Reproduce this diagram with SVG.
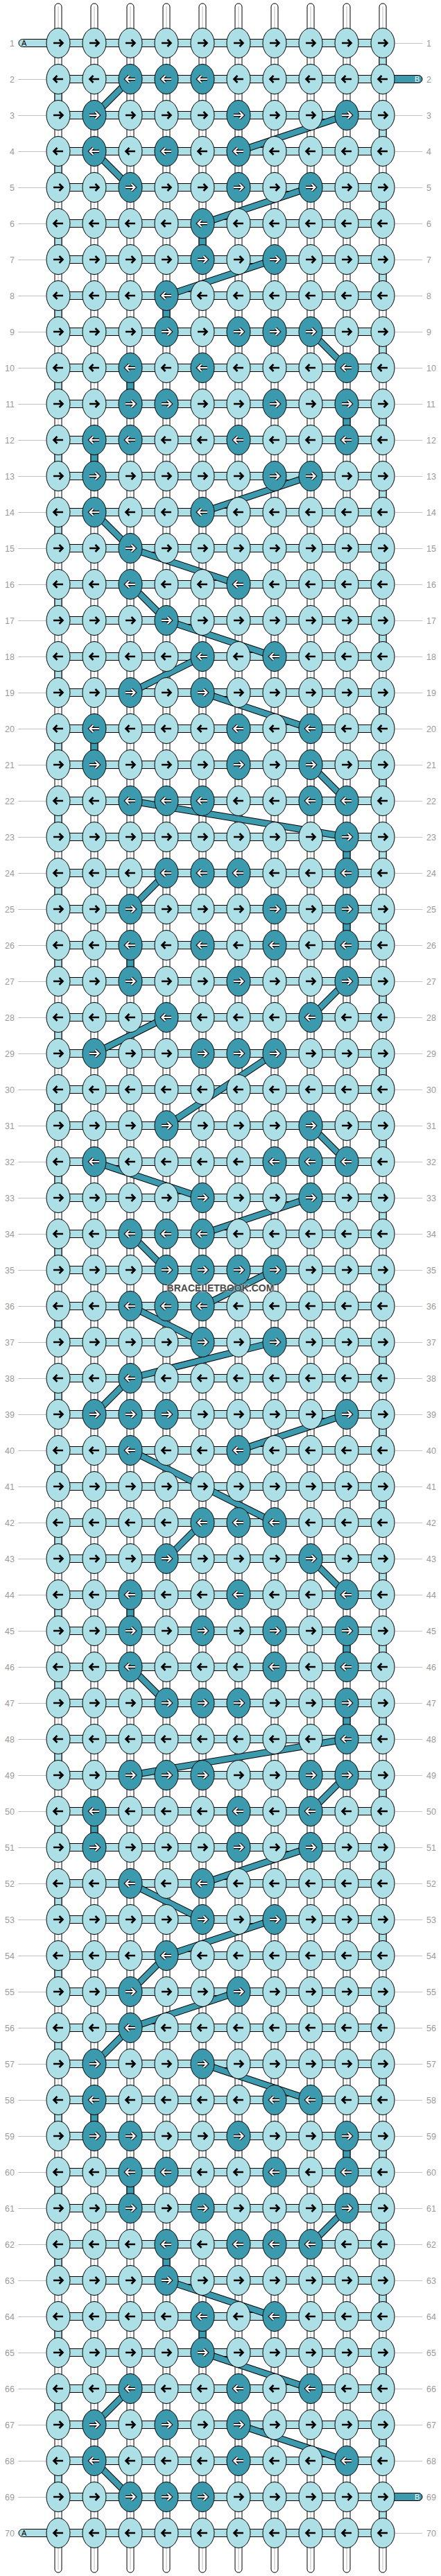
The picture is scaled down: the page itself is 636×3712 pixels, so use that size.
<svg xmlns="http://www.w3.org/2000/svg" width="636" height="3712" viewBox="0 0 636 3712">
<style>
.t{font-family:"Liberation Sans",Arial,sans-serif;font-size:12.5px;fill:#9a9a9a}
.tl{text-anchor:end}
.gl{stroke:#c2c2c2;stroke-width:1;fill:none}
.lt{fill:#ACDFE6;stroke:#000;stroke-width:1}
.dk{fill:#3B9AAD;stroke:#000;stroke-width:1}
.tail{font-family:"Liberation Sans",Arial,sans-serif;font-size:11px}
</style>
<defs>
<path id="ar" d="M-7,0H6M1.5,-5L6.5,0L1.5,5" fill="none"/>
<g id="a"><ellipse rx="17" ry="21.5" class="lt"/><use href="#ar" stroke="#000" stroke-width="2.6"/></g>
<g id="b"><ellipse rx="17" ry="21.5" class="lt"/><use href="#ar" stroke="#000" stroke-width="2.6" transform="scale(-1,1)"/></g>
<g id="c"><ellipse rx="17" ry="21.5" class="dk"/><use href="#ar" stroke="#000" stroke-width="4.4"/><use href="#ar" stroke="#fff" stroke-width="2.2"/></g>
<g id="d"><ellipse rx="17" ry="21.5" class="dk"/><g transform="scale(-1,1)"><use href="#ar" stroke="#000" stroke-width="4.4"/><use href="#ar" stroke="#fff" stroke-width="2.2"/></g></g>
<path id="bl" fill="none" d="M188,114L136,166M500,166L344,218M136,218L188,270M448,270L292,322M396,374L240,426M448,478L500,530M448,686L292,738M136,738L188,790M188,790L344,842M188,842L240,894M240,894L396,946M292,946L188,998M292,998L448,1050M448,1102L500,1154M188,1154L500,1206M240,1258L188,1310M500,1414L448,1466M240,1466L136,1518M396,1518L240,1622M448,1622L500,1674M136,1674L292,1726M448,1726L292,1778M188,1778L240,1830M396,1830L292,1882M188,1882L292,1934M396,1934L188,1986M188,1986L136,2038M500,2038L344,2090M188,2090L396,2194M292,2194L240,2246M448,2246L500,2298M188,2402L240,2454M500,2506L188,2558M500,2558L448,2610M448,2662L292,2714M188,2714L292,2766M396,2766L240,2818M240,2818L188,2870M344,2870L188,2922M188,2922L136,2974M292,2974L448,3026M500,3182L448,3234M240,3286L396,3338M292,3390L448,3442M188,3442L136,3494M344,3494L500,3546M136,3546L188,3598"/>
</defs>
<rect width="636" height="3712" fill="#fff"/>
<g id="warps" fill="#fff" stroke="#000">
<rect x="79" y="5" width="10" height="3702" rx="5"/><rect x="131" y="5" width="10" height="3702" rx="5"/><rect x="183" y="5" width="10" height="3702" rx="5"/><rect x="235" y="5" width="10" height="3702" rx="5"/><rect x="287" y="5" width="10" height="3702" rx="5"/><rect x="339" y="5" width="10" height="3702" rx="5"/><rect x="391" y="5" width="10" height="3702" rx="5"/><rect x="443" y="5" width="10" height="3702" rx="5"/><rect x="495" y="5" width="10" height="3702" rx="5"/><rect x="547" y="5" width="10" height="3702" rx="5"/>
<path stroke="#bbb" fill="none" d="M84,9V3703M136,9V3703M188,9V3703M240,9V3703M292,9V3703M344,9V3703M396,9V3703M448,9V3703M500,9V3703M552,9V3703"/>
</g>
<g id="connectors">
<path class="lt" d="M84,56.5h468v11h-468zM84,108.5h468v11h-468zM84,160.5h468v11h-468zM84,212.5h468v11h-468zM84,264.5h468v11h-468zM84,316.5h468v11h-468zM84,368.5h468v11h-468zM84,420.5h468v11h-468zM84,472.5h468v11h-468zM84,524.5h468v11h-468zM84,576.5h468v11h-468zM84,628.5h468v11h-468zM84,680.5h468v11h-468zM84,732.5h468v11h-468zM84,784.5h468v11h-468zM84,836.5h468v11h-468zM84,888.5h468v11h-468zM84,940.5h468v11h-468zM84,992.5h468v11h-468zM84,1044.5h468v11h-468zM84,1096.5h468v11h-468zM84,1148.5h468v11h-468zM84,1200.5h468v11h-468zM84,1252.5h468v11h-468zM84,1304.5h468v11h-468zM84,1356.5h468v11h-468zM84,1408.5h468v11h-468zM84,1460.5h468v11h-468zM84,1512.5h468v11h-468zM84,1564.5h468v11h-468zM84,1616.5h468v11h-468zM84,1668.5h468v11h-468zM84,1720.5h468v11h-468zM84,1772.5h468v11h-468zM84,1824.5h468v11h-468zM84,1876.5h468v11h-468zM84,1928.5h468v11h-468zM84,1980.5h468v11h-468zM84,2032.5h468v11h-468zM84,2084.5h468v11h-468zM84,2136.5h468v11h-468zM84,2188.5h468v11h-468zM84,2240.5h468v11h-468zM84,2292.5h468v11h-468zM84,2344.5h468v11h-468zM84,2396.5h468v11h-468zM84,2448.5h468v11h-468zM84,2500.5h468v11h-468zM84,2552.5h468v11h-468zM84,2604.5h468v11h-468zM84,2656.5h468v11h-468zM84,2708.5h468v11h-468zM84,2760.5h468v11h-468zM84,2812.5h468v11h-468zM84,2864.5h468v11h-468zM84,2916.5h468v11h-468zM84,2968.5h468v11h-468zM84,3020.5h468v11h-468zM84,3072.5h468v11h-468zM84,3124.5h468v11h-468zM84,3176.5h468v11h-468zM84,3228.5h468v11h-468zM84,3280.5h468v11h-468zM84,3332.5h468v11h-468zM84,3384.5h468v11h-468zM84,3436.5h468v11h-468zM84,3488.5h468v11h-468zM84,3540.5h468v11h-468zM84,3592.5h468v11h-468zM84,3644.5h468v11h-468z"/>
<path class="lt" d="M547,77h10v22h-10zM79,129h10v22h-10zM547,181h10v22h-10zM79,233h10v22h-10zM547,285h10v22h-10zM79,337h10v22h-10zM547,389h10v22h-10zM79,441h10v22h-10zM547,493h10v22h-10zM79,545h10v22h-10zM547,597h10v22h-10zM79,649h10v22h-10zM547,701h10v22h-10zM79,753h10v22h-10zM547,805h10v22h-10zM79,857h10v22h-10zM547,909h10v22h-10zM79,961h10v22h-10zM547,1013h10v22h-10zM79,1065h10v22h-10zM547,1117h10v22h-10zM79,1169h10v22h-10zM547,1221h10v22h-10zM79,1273h10v22h-10zM547,1325h10v22h-10zM79,1377h10v22h-10zM547,1429h10v22h-10zM79,1481h10v22h-10zM547,1533h10v22h-10zM79,1585h10v22h-10zM547,1637h10v22h-10zM79,1689h10v22h-10zM547,1741h10v22h-10zM79,1793h10v22h-10zM547,1845h10v22h-10zM79,1897h10v22h-10zM547,1949h10v22h-10zM79,2001h10v22h-10zM547,2053h10v22h-10zM79,2105h10v22h-10zM547,2157h10v22h-10zM79,2209h10v22h-10zM547,2261h10v22h-10zM79,2313h10v22h-10zM547,2365h10v22h-10zM79,2417h10v22h-10zM547,2469h10v22h-10zM79,2521h10v22h-10zM547,2573h10v22h-10zM79,2625h10v22h-10zM547,2677h10v22h-10zM79,2729h10v22h-10zM547,2781h10v22h-10zM79,2833h10v22h-10zM547,2885h10v22h-10zM79,2937h10v22h-10zM547,2989h10v22h-10zM79,3041h10v22h-10zM547,3093h10v22h-10zM79,3145h10v22h-10zM547,3197h10v22h-10zM79,3249h10v22h-10zM547,3301h10v22h-10zM79,3353h10v22h-10zM547,3405h10v22h-10zM79,3457h10v22h-10zM547,3509h10v22h-10zM79,3561h10v22h-10zM547,3613h10v22h-10z"/>
<path class="dk" d="M287,337h10v22h-10zM235,441h10v22h-10zM183,545h10v22h-10zM495,597h10v22h-10zM131,649h10v22h-10zM131,1065h10v22h-10zM495,1221h10v22h-10zM495,1325h10v22h-10zM183,1377h10v22h-10zM183,2313h10v22h-10zM495,2365h10v22h-10zM495,2469h10v22h-10zM131,2625h10v22h-10zM131,3041h10v22h-10zM495,3093h10v22h-10zM183,3145h10v22h-10zM235,3249h10v22h-10zM287,3353h10v22h-10z"/>
<use href="#bl" stroke="#000" stroke-width="10"/>
<use href="#bl" stroke="#3B9AAD" stroke-width="8"/>
<rect class="lt" x="27" y="56.5" width="66" height="11" rx="5.5"/>
<rect class="lt" x="27" y="3644.5" width="66" height="11" rx="5.5"/>
<rect class="dk" x="543" y="108.5" width="66" height="11" rx="5.5"/>
<rect class="dk" x="543" y="3592.5" width="66" height="11" rx="5.5"/>
<text class="tail" x="31" y="66" fill="#000">A</text>
<text class="tail" x="31" y="3654" fill="#000">A</text>
<text class="tail" x="598" y="118" fill="#fff">B</text>
<text class="tail" x="598" y="3602" fill="#fff">B</text>
</g>
<g id="knots">
<g id="row1" transform="translate(0,62)"><g id="n1-1"><use href="#a" x="84"/></g><g id="n1-2"><use href="#a" x="136"/></g><g id="n1-3"><use href="#a" x="188"/></g><g id="n1-4"><use href="#a" x="240"/></g><g id="n1-5"><use href="#a" x="292"/></g><g id="n1-6"><use href="#a" x="344"/></g><g id="n1-7"><use href="#a" x="396"/></g><g id="n1-8"><use href="#a" x="448"/></g><g id="n1-9"><use href="#a" x="500"/></g><g id="n1-10"><use href="#a" x="552"/></g></g>
<g id="row2" transform="translate(0,114)"><g id="n2-1"><use href="#b" x="84"/></g><g id="n2-2"><use href="#b" x="136"/></g><g id="n2-3"><use href="#d" x="188"/></g><g id="n2-4"><use href="#d" x="240"/></g><g id="n2-5"><use href="#d" x="292"/></g><g id="n2-6"><use href="#b" x="344"/></g><g id="n2-7"><use href="#b" x="396"/></g><g id="n2-8"><use href="#b" x="448"/></g><g id="n2-9"><use href="#b" x="500"/></g><g id="n2-10"><use href="#b" x="552"/></g></g>
<g id="row3" transform="translate(0,166)"><g id="n3-1"><use href="#a" x="84"/></g><g id="n3-2"><use href="#c" x="136"/></g><g id="n3-3"><use href="#a" x="188"/></g><g id="n3-4"><use href="#a" x="240"/></g><g id="n3-5"><use href="#a" x="292"/></g><g id="n3-6"><use href="#c" x="344"/></g><g id="n3-7"><use href="#a" x="396"/></g><g id="n3-8"><use href="#a" x="448"/></g><g id="n3-9"><use href="#c" x="500"/></g><g id="n3-10"><use href="#a" x="552"/></g></g>
<g id="row4" transform="translate(0,218)"><g id="n4-1"><use href="#b" x="84"/></g><g id="n4-2"><use href="#d" x="136"/></g><g id="n4-3"><use href="#b" x="188"/></g><g id="n4-4"><use href="#d" x="240"/></g><g id="n4-5"><use href="#b" x="292"/></g><g id="n4-6"><use href="#d" x="344"/></g><g id="n4-7"><use href="#b" x="396"/></g><g id="n4-8"><use href="#b" x="448"/></g><g id="n4-9"><use href="#b" x="500"/></g><g id="n4-10"><use href="#b" x="552"/></g></g>
<g id="row5" transform="translate(0,270)"><g id="n5-1"><use href="#a" x="84"/></g><g id="n5-2"><use href="#a" x="136"/></g><g id="n5-3"><use href="#c" x="188"/></g><g id="n5-4"><use href="#a" x="240"/></g><g id="n5-5"><use href="#a" x="292"/></g><g id="n5-6"><use href="#c" x="344"/></g><g id="n5-7"><use href="#a" x="396"/></g><g id="n5-8"><use href="#c" x="448"/></g><g id="n5-9"><use href="#a" x="500"/></g><g id="n5-10"><use href="#a" x="552"/></g></g>
<g id="row6" transform="translate(0,322)"><g id="n6-1"><use href="#b" x="84"/></g><g id="n6-2"><use href="#b" x="136"/></g><g id="n6-3"><use href="#b" x="188"/></g><g id="n6-4"><use href="#b" x="240"/></g><g id="n6-5"><use href="#d" x="292"/></g><g id="n6-6"><use href="#b" x="344"/></g><g id="n6-7"><use href="#b" x="396"/></g><g id="n6-8"><use href="#b" x="448"/></g><g id="n6-9"><use href="#b" x="500"/></g><g id="n6-10"><use href="#b" x="552"/></g></g>
<g id="row7" transform="translate(0,374)"><g id="n7-1"><use href="#a" x="84"/></g><g id="n7-2"><use href="#a" x="136"/></g><g id="n7-3"><use href="#a" x="188"/></g><g id="n7-4"><use href="#a" x="240"/></g><g id="n7-5"><use href="#c" x="292"/></g><g id="n7-6"><use href="#a" x="344"/></g><g id="n7-7"><use href="#c" x="396"/></g><g id="n7-8"><use href="#a" x="448"/></g><g id="n7-9"><use href="#a" x="500"/></g><g id="n7-10"><use href="#a" x="552"/></g></g>
<g id="row8" transform="translate(0,426)"><g id="n8-1"><use href="#b" x="84"/></g><g id="n8-2"><use href="#b" x="136"/></g><g id="n8-3"><use href="#b" x="188"/></g><g id="n8-4"><use href="#d" x="240"/></g><g id="n8-5"><use href="#b" x="292"/></g><g id="n8-6"><use href="#b" x="344"/></g><g id="n8-7"><use href="#b" x="396"/></g><g id="n8-8"><use href="#b" x="448"/></g><g id="n8-9"><use href="#b" x="500"/></g><g id="n8-10"><use href="#b" x="552"/></g></g>
<g id="row9" transform="translate(0,478)"><g id="n9-1"><use href="#a" x="84"/></g><g id="n9-2"><use href="#a" x="136"/></g><g id="n9-3"><use href="#a" x="188"/></g><g id="n9-4"><use href="#c" x="240"/></g><g id="n9-5"><use href="#a" x="292"/></g><g id="n9-6"><use href="#c" x="344"/></g><g id="n9-7"><use href="#c" x="396"/></g><g id="n9-8"><use href="#c" x="448"/></g><g id="n9-9"><use href="#a" x="500"/></g><g id="n9-10"><use href="#a" x="552"/></g></g>
<g id="row10" transform="translate(0,530)"><g id="n10-1"><use href="#b" x="84"/></g><g id="n10-2"><use href="#b" x="136"/></g><g id="n10-3"><use href="#d" x="188"/></g><g id="n10-4"><use href="#b" x="240"/></g><g id="n10-5"><use href="#d" x="292"/></g><g id="n10-6"><use href="#b" x="344"/></g><g id="n10-7"><use href="#b" x="396"/></g><g id="n10-8"><use href="#b" x="448"/></g><g id="n10-9"><use href="#d" x="500"/></g><g id="n10-10"><use href="#b" x="552"/></g></g>
<g id="row11" transform="translate(0,582)"><g id="n11-1"><use href="#a" x="84"/></g><g id="n11-2"><use href="#a" x="136"/></g><g id="n11-3"><use href="#c" x="188"/></g><g id="n11-4"><use href="#c" x="240"/></g><g id="n11-5"><use href="#a" x="292"/></g><g id="n11-6"><use href="#a" x="344"/></g><g id="n11-7"><use href="#c" x="396"/></g><g id="n11-8"><use href="#a" x="448"/></g><g id="n11-9"><use href="#c" x="500"/></g><g id="n11-10"><use href="#a" x="552"/></g></g>
<g id="row12" transform="translate(0,634)"><g id="n12-1"><use href="#b" x="84"/></g><g id="n12-2"><use href="#d" x="136"/></g><g id="n12-3"><use href="#d" x="188"/></g><g id="n12-4"><use href="#b" x="240"/></g><g id="n12-5"><use href="#b" x="292"/></g><g id="n12-6"><use href="#d" x="344"/></g><g id="n12-7"><use href="#b" x="396"/></g><g id="n12-8"><use href="#b" x="448"/></g><g id="n12-9"><use href="#d" x="500"/></g><g id="n12-10"><use href="#b" x="552"/></g></g>
<g id="row13" transform="translate(0,686)"><g id="n13-1"><use href="#a" x="84"/></g><g id="n13-2"><use href="#c" x="136"/></g><g id="n13-3"><use href="#a" x="188"/></g><g id="n13-4"><use href="#a" x="240"/></g><g id="n13-5"><use href="#a" x="292"/></g><g id="n13-6"><use href="#a" x="344"/></g><g id="n13-7"><use href="#c" x="396"/></g><g id="n13-8"><use href="#c" x="448"/></g><g id="n13-9"><use href="#a" x="500"/></g><g id="n13-10"><use href="#a" x="552"/></g></g>
<g id="row14" transform="translate(0,738)"><g id="n14-1"><use href="#b" x="84"/></g><g id="n14-2"><use href="#d" x="136"/></g><g id="n14-3"><use href="#b" x="188"/></g><g id="n14-4"><use href="#b" x="240"/></g><g id="n14-5"><use href="#d" x="292"/></g><g id="n14-6"><use href="#b" x="344"/></g><g id="n14-7"><use href="#b" x="396"/></g><g id="n14-8"><use href="#b" x="448"/></g><g id="n14-9"><use href="#b" x="500"/></g><g id="n14-10"><use href="#b" x="552"/></g></g>
<g id="row15" transform="translate(0,790)"><g id="n15-1"><use href="#a" x="84"/></g><g id="n15-2"><use href="#a" x="136"/></g><g id="n15-3"><use href="#c" x="188"/></g><g id="n15-4"><use href="#a" x="240"/></g><g id="n15-5"><use href="#a" x="292"/></g><g id="n15-6"><use href="#a" x="344"/></g><g id="n15-7"><use href="#a" x="396"/></g><g id="n15-8"><use href="#a" x="448"/></g><g id="n15-9"><use href="#a" x="500"/></g><g id="n15-10"><use href="#a" x="552"/></g></g>
<g id="row16" transform="translate(0,842)"><g id="n16-1"><use href="#b" x="84"/></g><g id="n16-2"><use href="#b" x="136"/></g><g id="n16-3"><use href="#d" x="188"/></g><g id="n16-4"><use href="#b" x="240"/></g><g id="n16-5"><use href="#b" x="292"/></g><g id="n16-6"><use href="#d" x="344"/></g><g id="n16-7"><use href="#b" x="396"/></g><g id="n16-8"><use href="#b" x="448"/></g><g id="n16-9"><use href="#b" x="500"/></g><g id="n16-10"><use href="#b" x="552"/></g></g>
<g id="row17" transform="translate(0,894)"><g id="n17-1"><use href="#a" x="84"/></g><g id="n17-2"><use href="#a" x="136"/></g><g id="n17-3"><use href="#a" x="188"/></g><g id="n17-4"><use href="#c" x="240"/></g><g id="n17-5"><use href="#a" x="292"/></g><g id="n17-6"><use href="#a" x="344"/></g><g id="n17-7"><use href="#a" x="396"/></g><g id="n17-8"><use href="#a" x="448"/></g><g id="n17-9"><use href="#a" x="500"/></g><g id="n17-10"><use href="#a" x="552"/></g></g>
<g id="row18" transform="translate(0,946)"><g id="n18-1"><use href="#b" x="84"/></g><g id="n18-2"><use href="#b" x="136"/></g><g id="n18-3"><use href="#b" x="188"/></g><g id="n18-4"><use href="#b" x="240"/></g><g id="n18-5"><use href="#d" x="292"/></g><g id="n18-6"><use href="#b" x="344"/></g><g id="n18-7"><use href="#d" x="396"/></g><g id="n18-8"><use href="#b" x="448"/></g><g id="n18-9"><use href="#b" x="500"/></g><g id="n18-10"><use href="#b" x="552"/></g></g>
<g id="row19" transform="translate(0,998)"><g id="n19-1"><use href="#a" x="84"/></g><g id="n19-2"><use href="#a" x="136"/></g><g id="n19-3"><use href="#c" x="188"/></g><g id="n19-4"><use href="#a" x="240"/></g><g id="n19-5"><use href="#c" x="292"/></g><g id="n19-6"><use href="#a" x="344"/></g><g id="n19-7"><use href="#a" x="396"/></g><g id="n19-8"><use href="#a" x="448"/></g><g id="n19-9"><use href="#a" x="500"/></g><g id="n19-10"><use href="#a" x="552"/></g></g>
<g id="row20" transform="translate(0,1050)"><g id="n20-1"><use href="#b" x="84"/></g><g id="n20-2"><use href="#d" x="136"/></g><g id="n20-3"><use href="#b" x="188"/></g><g id="n20-4"><use href="#b" x="240"/></g><g id="n20-5"><use href="#b" x="292"/></g><g id="n20-6"><use href="#d" x="344"/></g><g id="n20-7"><use href="#b" x="396"/></g><g id="n20-8"><use href="#d" x="448"/></g><g id="n20-9"><use href="#b" x="500"/></g><g id="n20-10"><use href="#b" x="552"/></g></g>
<g id="row21" transform="translate(0,1102)"><g id="n21-1"><use href="#a" x="84"/></g><g id="n21-2"><use href="#c" x="136"/></g><g id="n21-3"><use href="#a" x="188"/></g><g id="n21-4"><use href="#a" x="240"/></g><g id="n21-5"><use href="#a" x="292"/></g><g id="n21-6"><use href="#c" x="344"/></g><g id="n21-7"><use href="#a" x="396"/></g><g id="n21-8"><use href="#c" x="448"/></g><g id="n21-9"><use href="#a" x="500"/></g><g id="n21-10"><use href="#a" x="552"/></g></g>
<g id="row22" transform="translate(0,1154)"><g id="n22-1"><use href="#b" x="84"/></g><g id="n22-2"><use href="#b" x="136"/></g><g id="n22-3"><use href="#d" x="188"/></g><g id="n22-4"><use href="#d" x="240"/></g><g id="n22-5"><use href="#d" x="292"/></g><g id="n22-6"><use href="#b" x="344"/></g><g id="n22-7"><use href="#b" x="396"/></g><g id="n22-8"><use href="#d" x="448"/></g><g id="n22-9"><use href="#d" x="500"/></g><g id="n22-10"><use href="#b" x="552"/></g></g>
<g id="row23" transform="translate(0,1206)"><g id="n23-1"><use href="#a" x="84"/></g><g id="n23-2"><use href="#a" x="136"/></g><g id="n23-3"><use href="#a" x="188"/></g><g id="n23-4"><use href="#a" x="240"/></g><g id="n23-5"><use href="#a" x="292"/></g><g id="n23-6"><use href="#a" x="344"/></g><g id="n23-7"><use href="#a" x="396"/></g><g id="n23-8"><use href="#a" x="448"/></g><g id="n23-9"><use href="#c" x="500"/></g><g id="n23-10"><use href="#a" x="552"/></g></g>
<g id="row24" transform="translate(0,1258)"><g id="n24-1"><use href="#b" x="84"/></g><g id="n24-2"><use href="#b" x="136"/></g><g id="n24-3"><use href="#b" x="188"/></g><g id="n24-4"><use href="#d" x="240"/></g><g id="n24-5"><use href="#d" x="292"/></g><g id="n24-6"><use href="#d" x="344"/></g><g id="n24-7"><use href="#b" x="396"/></g><g id="n24-8"><use href="#b" x="448"/></g><g id="n24-9"><use href="#d" x="500"/></g><g id="n24-10"><use href="#b" x="552"/></g></g>
<g id="row25" transform="translate(0,1310)"><g id="n25-1"><use href="#a" x="84"/></g><g id="n25-2"><use href="#a" x="136"/></g><g id="n25-3"><use href="#c" x="188"/></g><g id="n25-4"><use href="#a" x="240"/></g><g id="n25-5"><use href="#a" x="292"/></g><g id="n25-6"><use href="#a" x="344"/></g><g id="n25-7"><use href="#c" x="396"/></g><g id="n25-8"><use href="#a" x="448"/></g><g id="n25-9"><use href="#c" x="500"/></g><g id="n25-10"><use href="#a" x="552"/></g></g>
<g id="row26" transform="translate(0,1362)"><g id="n26-1"><use href="#b" x="84"/></g><g id="n26-2"><use href="#b" x="136"/></g><g id="n26-3"><use href="#d" x="188"/></g><g id="n26-4"><use href="#b" x="240"/></g><g id="n26-5"><use href="#d" x="292"/></g><g id="n26-6"><use href="#b" x="344"/></g><g id="n26-7"><use href="#d" x="396"/></g><g id="n26-8"><use href="#b" x="448"/></g><g id="n26-9"><use href="#d" x="500"/></g><g id="n26-10"><use href="#b" x="552"/></g></g>
<g id="row27" transform="translate(0,1414)"><g id="n27-1"><use href="#a" x="84"/></g><g id="n27-2"><use href="#a" x="136"/></g><g id="n27-3"><use href="#c" x="188"/></g><g id="n27-4"><use href="#a" x="240"/></g><g id="n27-5"><use href="#a" x="292"/></g><g id="n27-6"><use href="#c" x="344"/></g><g id="n27-7"><use href="#a" x="396"/></g><g id="n27-8"><use href="#a" x="448"/></g><g id="n27-9"><use href="#c" x="500"/></g><g id="n27-10"><use href="#a" x="552"/></g></g>
<g id="row28" transform="translate(0,1466)"><g id="n28-1"><use href="#b" x="84"/></g><g id="n28-2"><use href="#b" x="136"/></g><g id="n28-3"><use href="#b" x="188"/></g><g id="n28-4"><use href="#d" x="240"/></g><g id="n28-5"><use href="#b" x="292"/></g><g id="n28-6"><use href="#b" x="344"/></g><g id="n28-7"><use href="#b" x="396"/></g><g id="n28-8"><use href="#d" x="448"/></g><g id="n28-9"><use href="#b" x="500"/></g><g id="n28-10"><use href="#b" x="552"/></g></g>
<g id="row29" transform="translate(0,1518)"><g id="n29-1"><use href="#a" x="84"/></g><g id="n29-2"><use href="#c" x="136"/></g><g id="n29-3"><use href="#a" x="188"/></g><g id="n29-4"><use href="#a" x="240"/></g><g id="n29-5"><use href="#c" x="292"/></g><g id="n29-6"><use href="#c" x="344"/></g><g id="n29-7"><use href="#c" x="396"/></g><g id="n29-8"><use href="#a" x="448"/></g><g id="n29-9"><use href="#a" x="500"/></g><g id="n29-10"><use href="#a" x="552"/></g></g>
<g id="row30" transform="translate(0,1570)"><g id="n30-1"><use href="#b" x="84"/></g><g id="n30-2"><use href="#b" x="136"/></g><g id="n30-3"><use href="#b" x="188"/></g><g id="n30-4"><use href="#b" x="240"/></g><g id="n30-5"><use href="#b" x="292"/></g><g id="n30-6"><use href="#b" x="344"/></g><g id="n30-7"><use href="#b" x="396"/></g><g id="n30-8"><use href="#b" x="448"/></g><g id="n30-9"><use href="#b" x="500"/></g><g id="n30-10"><use href="#b" x="552"/></g></g>
<g id="row31" transform="translate(0,1622)"><g id="n31-1"><use href="#a" x="84"/></g><g id="n31-2"><use href="#a" x="136"/></g><g id="n31-3"><use href="#a" x="188"/></g><g id="n31-4"><use href="#c" x="240"/></g><g id="n31-5"><use href="#a" x="292"/></g><g id="n31-6"><use href="#a" x="344"/></g><g id="n31-7"><use href="#a" x="396"/></g><g id="n31-8"><use href="#c" x="448"/></g><g id="n31-9"><use href="#a" x="500"/></g><g id="n31-10"><use href="#a" x="552"/></g></g>
<g id="row32" transform="translate(0,1674)"><g id="n32-1"><use href="#b" x="84"/></g><g id="n32-2"><use href="#d" x="136"/></g><g id="n32-3"><use href="#b" x="188"/></g><g id="n32-4"><use href="#b" x="240"/></g><g id="n32-5"><use href="#b" x="292"/></g><g id="n32-6"><use href="#b" x="344"/></g><g id="n32-7"><use href="#d" x="396"/></g><g id="n32-8"><use href="#d" x="448"/></g><g id="n32-9"><use href="#d" x="500"/></g><g id="n32-10"><use href="#b" x="552"/></g></g>
<g id="row33" transform="translate(0,1726)"><g id="n33-1"><use href="#a" x="84"/></g><g id="n33-2"><use href="#a" x="136"/></g><g id="n33-3"><use href="#a" x="188"/></g><g id="n33-4"><use href="#a" x="240"/></g><g id="n33-5"><use href="#c" x="292"/></g><g id="n33-6"><use href="#a" x="344"/></g><g id="n33-7"><use href="#a" x="396"/></g><g id="n33-8"><use href="#c" x="448"/></g><g id="n33-9"><use href="#a" x="500"/></g><g id="n33-10"><use href="#a" x="552"/></g></g>
<g id="row34" transform="translate(0,1778)"><g id="n34-1"><use href="#b" x="84"/></g><g id="n34-2"><use href="#b" x="136"/></g><g id="n34-3"><use href="#d" x="188"/></g><g id="n34-4"><use href="#d" x="240"/></g><g id="n34-5"><use href="#d" x="292"/></g><g id="n34-6"><use href="#b" x="344"/></g><g id="n34-7"><use href="#b" x="396"/></g><g id="n34-8"><use href="#b" x="448"/></g><g id="n34-9"><use href="#b" x="500"/></g><g id="n34-10"><use href="#b" x="552"/></g></g>
<g id="row35" transform="translate(0,1830)"><g id="n35-1"><use href="#a" x="84"/></g><g id="n35-2"><use href="#a" x="136"/></g><g id="n35-3"><use href="#a" x="188"/></g><g id="n35-4"><use href="#c" x="240"/></g><g id="n35-5"><use href="#c" x="292"/></g><g id="n35-6"><use href="#c" x="344"/></g><g id="n35-7"><use href="#c" x="396"/></g><g id="n35-8"><use href="#a" x="448"/></g><g id="n35-9"><use href="#a" x="500"/></g><g id="n35-10"><use href="#a" x="552"/></g></g>
<g id="row36" transform="translate(0,1882)"><g id="n36-1"><use href="#b" x="84"/></g><g id="n36-2"><use href="#b" x="136"/></g><g id="n36-3"><use href="#d" x="188"/></g><g id="n36-4"><use href="#d" x="240"/></g><g id="n36-5"><use href="#d" x="292"/></g><g id="n36-6"><use href="#b" x="344"/></g><g id="n36-7"><use href="#b" x="396"/></g><g id="n36-8"><use href="#b" x="448"/></g><g id="n36-9"><use href="#b" x="500"/></g><g id="n36-10"><use href="#b" x="552"/></g></g>
<g id="row37" transform="translate(0,1934)"><g id="n37-1"><use href="#a" x="84"/></g><g id="n37-2"><use href="#a" x="136"/></g><g id="n37-3"><use href="#a" x="188"/></g><g id="n37-4"><use href="#a" x="240"/></g><g id="n37-5"><use href="#c" x="292"/></g><g id="n37-6"><use href="#a" x="344"/></g><g id="n37-7"><use href="#c" x="396"/></g><g id="n37-8"><use href="#a" x="448"/></g><g id="n37-9"><use href="#a" x="500"/></g><g id="n37-10"><use href="#a" x="552"/></g></g>
<g id="row38" transform="translate(0,1986)"><g id="n38-1"><use href="#b" x="84"/></g><g id="n38-2"><use href="#b" x="136"/></g><g id="n38-3"><use href="#d" x="188"/></g><g id="n38-4"><use href="#b" x="240"/></g><g id="n38-5"><use href="#b" x="292"/></g><g id="n38-6"><use href="#b" x="344"/></g><g id="n38-7"><use href="#b" x="396"/></g><g id="n38-8"><use href="#b" x="448"/></g><g id="n38-9"><use href="#b" x="500"/></g><g id="n38-10"><use href="#b" x="552"/></g></g>
<g id="row39" transform="translate(0,2038)"><g id="n39-1"><use href="#a" x="84"/></g><g id="n39-2"><use href="#c" x="136"/></g><g id="n39-3"><use href="#c" x="188"/></g><g id="n39-4"><use href="#c" x="240"/></g><g id="n39-5"><use href="#a" x="292"/></g><g id="n39-6"><use href="#a" x="344"/></g><g id="n39-7"><use href="#a" x="396"/></g><g id="n39-8"><use href="#a" x="448"/></g><g id="n39-9"><use href="#c" x="500"/></g><g id="n39-10"><use href="#a" x="552"/></g></g>
<g id="row40" transform="translate(0,2090)"><g id="n40-1"><use href="#b" x="84"/></g><g id="n40-2"><use href="#b" x="136"/></g><g id="n40-3"><use href="#d" x="188"/></g><g id="n40-4"><use href="#b" x="240"/></g><g id="n40-5"><use href="#b" x="292"/></g><g id="n40-6"><use href="#d" x="344"/></g><g id="n40-7"><use href="#b" x="396"/></g><g id="n40-8"><use href="#b" x="448"/></g><g id="n40-9"><use href="#b" x="500"/></g><g id="n40-10"><use href="#b" x="552"/></g></g>
<g id="row41" transform="translate(0,2142)"><g id="n41-1"><use href="#a" x="84"/></g><g id="n41-2"><use href="#a" x="136"/></g><g id="n41-3"><use href="#a" x="188"/></g><g id="n41-4"><use href="#a" x="240"/></g><g id="n41-5"><use href="#a" x="292"/></g><g id="n41-6"><use href="#a" x="344"/></g><g id="n41-7"><use href="#a" x="396"/></g><g id="n41-8"><use href="#a" x="448"/></g><g id="n41-9"><use href="#a" x="500"/></g><g id="n41-10"><use href="#a" x="552"/></g></g>
<g id="row42" transform="translate(0,2194)"><g id="n42-1"><use href="#b" x="84"/></g><g id="n42-2"><use href="#b" x="136"/></g><g id="n42-3"><use href="#b" x="188"/></g><g id="n42-4"><use href="#b" x="240"/></g><g id="n42-5"><use href="#d" x="292"/></g><g id="n42-6"><use href="#d" x="344"/></g><g id="n42-7"><use href="#d" x="396"/></g><g id="n42-8"><use href="#b" x="448"/></g><g id="n42-9"><use href="#b" x="500"/></g><g id="n42-10"><use href="#b" x="552"/></g></g>
<g id="row43" transform="translate(0,2246)"><g id="n43-1"><use href="#a" x="84"/></g><g id="n43-2"><use href="#a" x="136"/></g><g id="n43-3"><use href="#a" x="188"/></g><g id="n43-4"><use href="#c" x="240"/></g><g id="n43-5"><use href="#a" x="292"/></g><g id="n43-6"><use href="#a" x="344"/></g><g id="n43-7"><use href="#a" x="396"/></g><g id="n43-8"><use href="#c" x="448"/></g><g id="n43-9"><use href="#a" x="500"/></g><g id="n43-10"><use href="#a" x="552"/></g></g>
<g id="row44" transform="translate(0,2298)"><g id="n44-1"><use href="#b" x="84"/></g><g id="n44-2"><use href="#b" x="136"/></g><g id="n44-3"><use href="#d" x="188"/></g><g id="n44-4"><use href="#b" x="240"/></g><g id="n44-5"><use href="#b" x="292"/></g><g id="n44-6"><use href="#d" x="344"/></g><g id="n44-7"><use href="#b" x="396"/></g><g id="n44-8"><use href="#b" x="448"/></g><g id="n44-9"><use href="#d" x="500"/></g><g id="n44-10"><use href="#b" x="552"/></g></g>
<g id="row45" transform="translate(0,2350)"><g id="n45-1"><use href="#a" x="84"/></g><g id="n45-2"><use href="#a" x="136"/></g><g id="n45-3"><use href="#c" x="188"/></g><g id="n45-4"><use href="#a" x="240"/></g><g id="n45-5"><use href="#c" x="292"/></g><g id="n45-6"><use href="#a" x="344"/></g><g id="n45-7"><use href="#c" x="396"/></g><g id="n45-8"><use href="#a" x="448"/></g><g id="n45-9"><use href="#c" x="500"/></g><g id="n45-10"><use href="#a" x="552"/></g></g>
<g id="row46" transform="translate(0,2402)"><g id="n46-1"><use href="#b" x="84"/></g><g id="n46-2"><use href="#b" x="136"/></g><g id="n46-3"><use href="#d" x="188"/></g><g id="n46-4"><use href="#b" x="240"/></g><g id="n46-5"><use href="#b" x="292"/></g><g id="n46-6"><use href="#b" x="344"/></g><g id="n46-7"><use href="#d" x="396"/></g><g id="n46-8"><use href="#b" x="448"/></g><g id="n46-9"><use href="#d" x="500"/></g><g id="n46-10"><use href="#b" x="552"/></g></g>
<g id="row47" transform="translate(0,2454)"><g id="n47-1"><use href="#a" x="84"/></g><g id="n47-2"><use href="#a" x="136"/></g><g id="n47-3"><use href="#a" x="188"/></g><g id="n47-4"><use href="#c" x="240"/></g><g id="n47-5"><use href="#c" x="292"/></g><g id="n47-6"><use href="#c" x="344"/></g><g id="n47-7"><use href="#a" x="396"/></g><g id="n47-8"><use href="#a" x="448"/></g><g id="n47-9"><use href="#c" x="500"/></g><g id="n47-10"><use href="#a" x="552"/></g></g>
<g id="row48" transform="translate(0,2506)"><g id="n48-1"><use href="#b" x="84"/></g><g id="n48-2"><use href="#b" x="136"/></g><g id="n48-3"><use href="#b" x="188"/></g><g id="n48-4"><use href="#b" x="240"/></g><g id="n48-5"><use href="#b" x="292"/></g><g id="n48-6"><use href="#b" x="344"/></g><g id="n48-7"><use href="#b" x="396"/></g><g id="n48-8"><use href="#b" x="448"/></g><g id="n48-9"><use href="#d" x="500"/></g><g id="n48-10"><use href="#b" x="552"/></g></g>
<g id="row49" transform="translate(0,2558)"><g id="n49-1"><use href="#a" x="84"/></g><g id="n49-2"><use href="#a" x="136"/></g><g id="n49-3"><use href="#c" x="188"/></g><g id="n49-4"><use href="#c" x="240"/></g><g id="n49-5"><use href="#c" x="292"/></g><g id="n49-6"><use href="#a" x="344"/></g><g id="n49-7"><use href="#a" x="396"/></g><g id="n49-8"><use href="#c" x="448"/></g><g id="n49-9"><use href="#c" x="500"/></g><g id="n49-10"><use href="#a" x="552"/></g></g>
<g id="row50" transform="translate(0,2610)"><g id="n50-1"><use href="#b" x="84"/></g><g id="n50-2"><use href="#d" x="136"/></g><g id="n50-3"><use href="#b" x="188"/></g><g id="n50-4"><use href="#b" x="240"/></g><g id="n50-5"><use href="#b" x="292"/></g><g id="n50-6"><use href="#d" x="344"/></g><g id="n50-7"><use href="#b" x="396"/></g><g id="n50-8"><use href="#d" x="448"/></g><g id="n50-9"><use href="#b" x="500"/></g><g id="n50-10"><use href="#b" x="552"/></g></g>
<g id="row51" transform="translate(0,2662)"><g id="n51-1"><use href="#a" x="84"/></g><g id="n51-2"><use href="#c" x="136"/></g><g id="n51-3"><use href="#a" x="188"/></g><g id="n51-4"><use href="#a" x="240"/></g><g id="n51-5"><use href="#a" x="292"/></g><g id="n51-6"><use href="#c" x="344"/></g><g id="n51-7"><use href="#a" x="396"/></g><g id="n51-8"><use href="#c" x="448"/></g><g id="n51-9"><use href="#a" x="500"/></g><g id="n51-10"><use href="#a" x="552"/></g></g>
<g id="row52" transform="translate(0,2714)"><g id="n52-1"><use href="#b" x="84"/></g><g id="n52-2"><use href="#b" x="136"/></g><g id="n52-3"><use href="#d" x="188"/></g><g id="n52-4"><use href="#b" x="240"/></g><g id="n52-5"><use href="#d" x="292"/></g><g id="n52-6"><use href="#b" x="344"/></g><g id="n52-7"><use href="#b" x="396"/></g><g id="n52-8"><use href="#b" x="448"/></g><g id="n52-9"><use href="#b" x="500"/></g><g id="n52-10"><use href="#b" x="552"/></g></g>
<g id="row53" transform="translate(0,2766)"><g id="n53-1"><use href="#a" x="84"/></g><g id="n53-2"><use href="#a" x="136"/></g><g id="n53-3"><use href="#a" x="188"/></g><g id="n53-4"><use href="#a" x="240"/></g><g id="n53-5"><use href="#c" x="292"/></g><g id="n53-6"><use href="#a" x="344"/></g><g id="n53-7"><use href="#c" x="396"/></g><g id="n53-8"><use href="#a" x="448"/></g><g id="n53-9"><use href="#a" x="500"/></g><g id="n53-10"><use href="#a" x="552"/></g></g>
<g id="row54" transform="translate(0,2818)"><g id="n54-1"><use href="#b" x="84"/></g><g id="n54-2"><use href="#b" x="136"/></g><g id="n54-3"><use href="#b" x="188"/></g><g id="n54-4"><use href="#d" x="240"/></g><g id="n54-5"><use href="#b" x="292"/></g><g id="n54-6"><use href="#b" x="344"/></g><g id="n54-7"><use href="#b" x="396"/></g><g id="n54-8"><use href="#b" x="448"/></g><g id="n54-9"><use href="#b" x="500"/></g><g id="n54-10"><use href="#b" x="552"/></g></g>
<g id="row55" transform="translate(0,2870)"><g id="n55-1"><use href="#a" x="84"/></g><g id="n55-2"><use href="#a" x="136"/></g><g id="n55-3"><use href="#c" x="188"/></g><g id="n55-4"><use href="#a" x="240"/></g><g id="n55-5"><use href="#a" x="292"/></g><g id="n55-6"><use href="#c" x="344"/></g><g id="n55-7"><use href="#a" x="396"/></g><g id="n55-8"><use href="#a" x="448"/></g><g id="n55-9"><use href="#a" x="500"/></g><g id="n55-10"><use href="#a" x="552"/></g></g>
<g id="row56" transform="translate(0,2922)"><g id="n56-1"><use href="#b" x="84"/></g><g id="n56-2"><use href="#b" x="136"/></g><g id="n56-3"><use href="#d" x="188"/></g><g id="n56-4"><use href="#b" x="240"/></g><g id="n56-5"><use href="#b" x="292"/></g><g id="n56-6"><use href="#b" x="344"/></g><g id="n56-7"><use href="#b" x="396"/></g><g id="n56-8"><use href="#b" x="448"/></g><g id="n56-9"><use href="#b" x="500"/></g><g id="n56-10"><use href="#b" x="552"/></g></g>
<g id="row57" transform="translate(0,2974)"><g id="n57-1"><use href="#a" x="84"/></g><g id="n57-2"><use href="#c" x="136"/></g><g id="n57-3"><use href="#a" x="188"/></g><g id="n57-4"><use href="#a" x="240"/></g><g id="n57-5"><use href="#c" x="292"/></g><g id="n57-6"><use href="#a" x="344"/></g><g id="n57-7"><use href="#a" x="396"/></g><g id="n57-8"><use href="#a" x="448"/></g><g id="n57-9"><use href="#a" x="500"/></g><g id="n57-10"><use href="#a" x="552"/></g></g>
<g id="row58" transform="translate(0,3026)"><g id="n58-1"><use href="#b" x="84"/></g><g id="n58-2"><use href="#d" x="136"/></g><g id="n58-3"><use href="#b" x="188"/></g><g id="n58-4"><use href="#b" x="240"/></g><g id="n58-5"><use href="#b" x="292"/></g><g id="n58-6"><use href="#b" x="344"/></g><g id="n58-7"><use href="#d" x="396"/></g><g id="n58-8"><use href="#d" x="448"/></g><g id="n58-9"><use href="#b" x="500"/></g><g id="n58-10"><use href="#b" x="552"/></g></g>
<g id="row59" transform="translate(0,3078)"><g id="n59-1"><use href="#a" x="84"/></g><g id="n59-2"><use href="#c" x="136"/></g><g id="n59-3"><use href="#c" x="188"/></g><g id="n59-4"><use href="#a" x="240"/></g><g id="n59-5"><use href="#a" x="292"/></g><g id="n59-6"><use href="#c" x="344"/></g><g id="n59-7"><use href="#a" x="396"/></g><g id="n59-8"><use href="#a" x="448"/></g><g id="n59-9"><use href="#c" x="500"/></g><g id="n59-10"><use href="#a" x="552"/></g></g>
<g id="row60" transform="translate(0,3130)"><g id="n60-1"><use href="#b" x="84"/></g><g id="n60-2"><use href="#b" x="136"/></g><g id="n60-3"><use href="#d" x="188"/></g><g id="n60-4"><use href="#d" x="240"/></g><g id="n60-5"><use href="#b" x="292"/></g><g id="n60-6"><use href="#b" x="344"/></g><g id="n60-7"><use href="#d" x="396"/></g><g id="n60-8"><use href="#b" x="448"/></g><g id="n60-9"><use href="#d" x="500"/></g><g id="n60-10"><use href="#b" x="552"/></g></g>
<g id="row61" transform="translate(0,3182)"><g id="n61-1"><use href="#a" x="84"/></g><g id="n61-2"><use href="#a" x="136"/></g><g id="n61-3"><use href="#c" x="188"/></g><g id="n61-4"><use href="#a" x="240"/></g><g id="n61-5"><use href="#c" x="292"/></g><g id="n61-6"><use href="#a" x="344"/></g><g id="n61-7"><use href="#a" x="396"/></g><g id="n61-8"><use href="#a" x="448"/></g><g id="n61-9"><use href="#c" x="500"/></g><g id="n61-10"><use href="#a" x="552"/></g></g>
<g id="row62" transform="translate(0,3234)"><g id="n62-1"><use href="#b" x="84"/></g><g id="n62-2"><use href="#b" x="136"/></g><g id="n62-3"><use href="#b" x="188"/></g><g id="n62-4"><use href="#d" x="240"/></g><g id="n62-5"><use href="#b" x="292"/></g><g id="n62-6"><use href="#d" x="344"/></g><g id="n62-7"><use href="#d" x="396"/></g><g id="n62-8"><use href="#d" x="448"/></g><g id="n62-9"><use href="#b" x="500"/></g><g id="n62-10"><use href="#b" x="552"/></g></g>
<g id="row63" transform="translate(0,3286)"><g id="n63-1"><use href="#a" x="84"/></g><g id="n63-2"><use href="#a" x="136"/></g><g id="n63-3"><use href="#a" x="188"/></g><g id="n63-4"><use href="#c" x="240"/></g><g id="n63-5"><use href="#a" x="292"/></g><g id="n63-6"><use href="#a" x="344"/></g><g id="n63-7"><use href="#a" x="396"/></g><g id="n63-8"><use href="#a" x="448"/></g><g id="n63-9"><use href="#a" x="500"/></g><g id="n63-10"><use href="#a" x="552"/></g></g>
<g id="row64" transform="translate(0,3338)"><g id="n64-1"><use href="#b" x="84"/></g><g id="n64-2"><use href="#b" x="136"/></g><g id="n64-3"><use href="#b" x="188"/></g><g id="n64-4"><use href="#b" x="240"/></g><g id="n64-5"><use href="#d" x="292"/></g><g id="n64-6"><use href="#b" x="344"/></g><g id="n64-7"><use href="#d" x="396"/></g><g id="n64-8"><use href="#b" x="448"/></g><g id="n64-9"><use href="#b" x="500"/></g><g id="n64-10"><use href="#b" x="552"/></g></g>
<g id="row65" transform="translate(0,3390)"><g id="n65-1"><use href="#a" x="84"/></g><g id="n65-2"><use href="#a" x="136"/></g><g id="n65-3"><use href="#a" x="188"/></g><g id="n65-4"><use href="#a" x="240"/></g><g id="n65-5"><use href="#c" x="292"/></g><g id="n65-6"><use href="#a" x="344"/></g><g id="n65-7"><use href="#a" x="396"/></g><g id="n65-8"><use href="#a" x="448"/></g><g id="n65-9"><use href="#a" x="500"/></g><g id="n65-10"><use href="#a" x="552"/></g></g>
<g id="row66" transform="translate(0,3442)"><g id="n66-1"><use href="#b" x="84"/></g><g id="n66-2"><use href="#b" x="136"/></g><g id="n66-3"><use href="#d" x="188"/></g><g id="n66-4"><use href="#b" x="240"/></g><g id="n66-5"><use href="#b" x="292"/></g><g id="n66-6"><use href="#d" x="344"/></g><g id="n66-7"><use href="#b" x="396"/></g><g id="n66-8"><use href="#d" x="448"/></g><g id="n66-9"><use href="#b" x="500"/></g><g id="n66-10"><use href="#b" x="552"/></g></g>
<g id="row67" transform="translate(0,3494)"><g id="n67-1"><use href="#a" x="84"/></g><g id="n67-2"><use href="#c" x="136"/></g><g id="n67-3"><use href="#a" x="188"/></g><g id="n67-4"><use href="#c" x="240"/></g><g id="n67-5"><use href="#a" x="292"/></g><g id="n67-6"><use href="#c" x="344"/></g><g id="n67-7"><use href="#a" x="396"/></g><g id="n67-8"><use href="#a" x="448"/></g><g id="n67-9"><use href="#a" x="500"/></g><g id="n67-10"><use href="#a" x="552"/></g></g>
<g id="row68" transform="translate(0,3546)"><g id="n68-1"><use href="#b" x="84"/></g><g id="n68-2"><use href="#d" x="136"/></g><g id="n68-3"><use href="#b" x="188"/></g><g id="n68-4"><use href="#b" x="240"/></g><g id="n68-5"><use href="#b" x="292"/></g><g id="n68-6"><use href="#d" x="344"/></g><g id="n68-7"><use href="#b" x="396"/></g><g id="n68-8"><use href="#b" x="448"/></g><g id="n68-9"><use href="#d" x="500"/></g><g id="n68-10"><use href="#b" x="552"/></g></g>
<g id="row69" transform="translate(0,3598)"><g id="n69-1"><use href="#a" x="84"/></g><g id="n69-2"><use href="#a" x="136"/></g><g id="n69-3"><use href="#c" x="188"/></g><g id="n69-4"><use href="#c" x="240"/></g><g id="n69-5"><use href="#c" x="292"/></g><g id="n69-6"><use href="#a" x="344"/></g><g id="n69-7"><use href="#a" x="396"/></g><g id="n69-8"><use href="#a" x="448"/></g><g id="n69-9"><use href="#a" x="500"/></g><g id="n69-10"><use href="#a" x="552"/></g></g>
<g id="row70" transform="translate(0,3650)"><g id="n70-1"><use href="#b" x="84"/></g><g id="n70-2"><use href="#b" x="136"/></g><g id="n70-3"><use href="#b" x="188"/></g><g id="n70-4"><use href="#b" x="240"/></g><g id="n70-5"><use href="#b" x="292"/></g><g id="n70-6"><use href="#b" x="344"/></g><g id="n70-7"><use href="#b" x="396"/></g><g id="n70-8"><use href="#b" x="448"/></g><g id="n70-9"><use href="#b" x="500"/></g><g id="n70-10"><use href="#b" x="552"/></g></g>
</g>
<g id="labels">
<path class="gl" d="M26,114.5H66M26,166.5H66M26,218.5H66M26,270.5H66M26,322.5H66M26,374.5H66M26,426.5H66M26,478.5H66M26,530.5H66M26,582.5H66M26,634.5H66M26,686.5H66M26,738.5H66M26,790.5H66M26,842.5H66M26,894.5H66M26,946.5H66M26,998.5H66M26,1050.5H66M26,1102.5H66M26,1154.5H66M26,1206.5H66M26,1258.5H66M26,1310.5H66M26,1362.5H66M26,1414.5H66M26,1466.5H66M26,1518.5H66M26,1570.5H66M26,1622.5H66M26,1674.5H66M26,1726.5H66M26,1778.5H66M26,1830.5H66M26,1882.5H66M26,1934.5H66M26,1986.5H66M26,2038.5H66M26,2090.5H66M26,2142.5H66M26,2194.5H66M26,2246.5H66M26,2298.5H66M26,2350.5H66M26,2402.5H66M26,2454.5H66M26,2506.5H66M26,2558.5H66M26,2610.5H66M26,2662.5H66M26,2714.5H66M26,2766.5H66M26,2818.5H66M26,2870.5H66M26,2922.5H66M26,2974.5H66M26,3026.5H66M26,3078.5H66M26,3130.5H66M26,3182.5H66M26,3234.5H66M26,3286.5H66M26,3338.5H66M26,3390.5H66M26,3442.5H66M26,3494.5H66M26,3546.5H66M26,3598.5H66"/>
<path class="gl" d="M570,62.5H609M570,166.5H609M570,218.5H609M570,270.5H609M570,322.5H609M570,374.5H609M570,426.5H609M570,478.5H609M570,530.5H609M570,582.5H609M570,634.5H609M570,686.5H609M570,738.5H609M570,790.5H609M570,842.5H609M570,894.5H609M570,946.5H609M570,998.5H609M570,1050.5H609M570,1102.5H609M570,1154.5H609M570,1206.5H609M570,1258.5H609M570,1310.5H609M570,1362.5H609M570,1414.5H609M570,1466.5H609M570,1518.5H609M570,1570.5H609M570,1622.5H609M570,1674.5H609M570,1726.5H609M570,1778.5H609M570,1830.5H609M570,1882.5H609M570,1934.5H609M570,1986.5H609M570,2038.5H609M570,2090.5H609M570,2142.5H609M570,2194.5H609M570,2246.5H609M570,2298.5H609M570,2350.5H609M570,2402.5H609M570,2454.5H609M570,2506.5H609M570,2558.5H609M570,2610.5H609M570,2662.5H609M570,2714.5H609M570,2766.5H609M570,2818.5H609M570,2870.5H609M570,2922.5H609M570,2974.5H609M570,3026.5H609M570,3078.5H609M570,3130.5H609M570,3182.5H609M570,3234.5H609M570,3286.5H609M570,3338.5H609M570,3390.5H609M570,3442.5H609M570,3494.5H609M570,3546.5H609M570,3650.5H609"/>
<g class="t tl">
<text x="21" y="66.5">1</text><text x="21" y="118.5">2</text><text x="21" y="170.5">3</text><text x="21" y="222.5">4</text><text x="21" y="274.5">5</text><text x="21" y="326.5">6</text><text x="21" y="378.5">7</text><text x="21" y="430.5">8</text><text x="21" y="482.5">9</text><text x="21" y="534.5">10</text>
<text x="21" y="586.5">11</text><text x="21" y="638.5">12</text><text x="21" y="690.5">13</text><text x="21" y="742.5">14</text><text x="21" y="794.5">15</text><text x="21" y="846.5">16</text><text x="21" y="898.5">17</text><text x="21" y="950.5">18</text><text x="21" y="1002.5">19</text><text x="21" y="1054.5">20</text>
<text x="21" y="1106.5">21</text><text x="21" y="1158.5">22</text><text x="21" y="1210.5">23</text><text x="21" y="1262.5">24</text><text x="21" y="1314.5">25</text><text x="21" y="1366.5">26</text><text x="21" y="1418.5">27</text><text x="21" y="1470.5">28</text><text x="21" y="1522.5">29</text><text x="21" y="1574.5">30</text>
<text x="21" y="1626.5">31</text><text x="21" y="1678.5">32</text><text x="21" y="1730.5">33</text><text x="21" y="1782.5">34</text><text x="21" y="1834.5">35</text><text x="21" y="1886.5">36</text><text x="21" y="1938.5">37</text><text x="21" y="1990.5">38</text><text x="21" y="2042.5">39</text><text x="21" y="2094.5">40</text>
<text x="21" y="2146.5">41</text><text x="21" y="2198.5">42</text><text x="21" y="2250.5">43</text><text x="21" y="2302.5">44</text><text x="21" y="2354.5">45</text><text x="21" y="2406.5">46</text><text x="21" y="2458.5">47</text><text x="21" y="2510.5">48</text><text x="21" y="2562.5">49</text><text x="21" y="2614.5">50</text>
<text x="21" y="2666.5">51</text><text x="21" y="2718.5">52</text><text x="21" y="2770.5">53</text><text x="21" y="2822.5">54</text><text x="21" y="2874.5">55</text><text x="21" y="2926.5">56</text><text x="21" y="2978.5">57</text><text x="21" y="3030.5">58</text><text x="21" y="3082.5">59</text><text x="21" y="3134.5">60</text>
<text x="21" y="3186.5">61</text><text x="21" y="3238.5">62</text><text x="21" y="3290.5">63</text><text x="21" y="3342.5">64</text><text x="21" y="3394.5">65</text><text x="21" y="3446.5">66</text><text x="21" y="3498.5">67</text><text x="21" y="3550.5">68</text><text x="21" y="3602.5">69</text><text x="21" y="3654.5">70</text>
</g>
<g class="t">
<text x="615" y="66.5">1</text><text x="615" y="118.5">2</text><text x="615" y="170.5">3</text><text x="615" y="222.5">4</text><text x="615" y="274.5">5</text><text x="615" y="326.5">6</text><text x="615" y="378.5">7</text><text x="615" y="430.5">8</text><text x="615" y="482.5">9</text><text x="615" y="534.5">10</text>
<text x="615" y="586.5">11</text><text x="615" y="638.5">12</text><text x="615" y="690.5">13</text><text x="615" y="742.5">14</text><text x="615" y="794.5">15</text><text x="615" y="846.5">16</text><text x="615" y="898.5">17</text><text x="615" y="950.5">18</text><text x="615" y="1002.5">19</text><text x="615" y="1054.5">20</text>
<text x="615" y="1106.5">21</text><text x="615" y="1158.5">22</text><text x="615" y="1210.5">23</text><text x="615" y="1262.5">24</text><text x="615" y="1314.5">25</text><text x="615" y="1366.5">26</text><text x="615" y="1418.5">27</text><text x="615" y="1470.5">28</text><text x="615" y="1522.5">29</text><text x="615" y="1574.5">30</text>
<text x="615" y="1626.5">31</text><text x="615" y="1678.5">32</text><text x="615" y="1730.5">33</text><text x="615" y="1782.5">34</text><text x="615" y="1834.5">35</text><text x="615" y="1886.5">36</text><text x="615" y="1938.5">37</text><text x="615" y="1990.5">38</text><text x="615" y="2042.5">39</text><text x="615" y="2094.5">40</text>
<text x="615" y="2146.5">41</text><text x="615" y="2198.5">42</text><text x="615" y="2250.5">43</text><text x="615" y="2302.5">44</text><text x="615" y="2354.5">45</text><text x="615" y="2406.5">46</text><text x="615" y="2458.5">47</text><text x="615" y="2510.5">48</text><text x="615" y="2562.5">49</text><text x="615" y="2614.5">50</text>
<text x="615" y="2666.5">51</text><text x="615" y="2718.5">52</text><text x="615" y="2770.5">53</text><text x="615" y="2822.5">54</text><text x="615" y="2874.5">55</text><text x="615" y="2926.5">56</text><text x="615" y="2978.5">57</text><text x="615" y="3030.5">58</text><text x="615" y="3082.5">59</text><text x="615" y="3134.5">60</text>
<text x="615" y="3186.5">61</text><text x="615" y="3238.5">62</text><text x="615" y="3290.5">63</text><text x="615" y="3342.5">64</text><text x="615" y="3394.5">65</text><text x="615" y="3446.5">66</text><text x="615" y="3498.5">67</text><text x="615" y="3550.5">68</text><text x="615" y="3602.5">69</text><text x="615" y="3654.5">70</text>
</g>
<text x="318" y="1861" text-anchor="middle" font-family="Liberation Sans, Arial, sans-serif" font-weight="bold" font-size="14" fill="#4a4a4a" stroke="#fff" stroke-opacity="0.5" stroke-width="1.5" paint-order="stroke">BRACELETBOOK.COM</text>
</g>
</svg>
